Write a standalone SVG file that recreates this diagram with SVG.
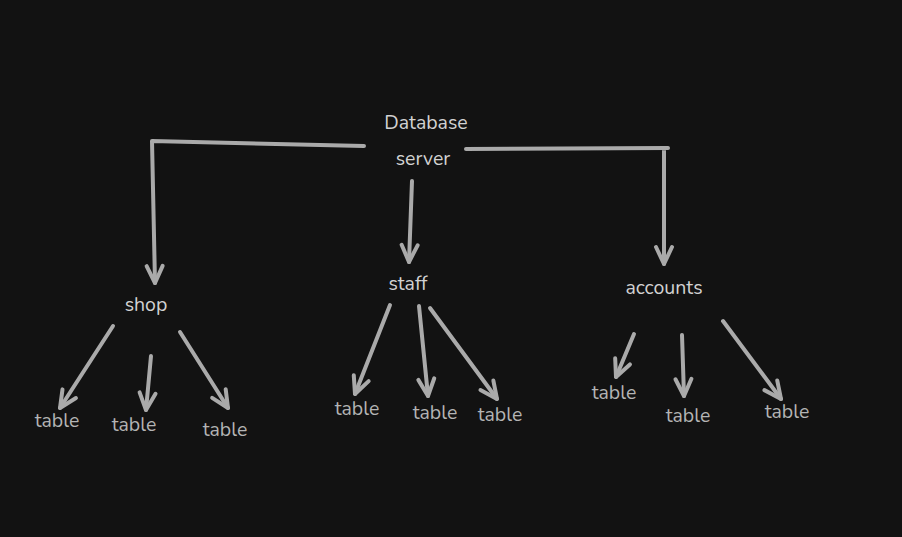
<svg xmlns="http://www.w3.org/2000/svg" width="902" height="537" viewBox="0 0 902 537">
<style>
  .lbl { font-family: "Nunito", "Open Sans", "Liberation Sans", sans-serif; font-size: 19.5px; fill: #d2d2d2; text-anchor: middle; }
  .tbl { font-family: "Nunito", "Open Sans", "Liberation Sans", sans-serif; font-size: 19.5px; fill: #b4b4b4; text-anchor: middle; }
  .edge { fill: none; stroke: #aaaaaa; stroke-width: 4; stroke-linecap: round; stroke-linejoin: round; }
</style>
<defs>
  <marker id="ah" viewBox="-20 -12 24 24" refX="0" refY="0" markerWidth="24" markerHeight="24" markerUnits="userSpaceOnUse" orient="auto" overflow="visible">
    <path d="M-17,-8 L0,0 L-17,8" fill="none" stroke="#aaaaaa" stroke-width="4" stroke-linecap="round" stroke-linejoin="round"/>
  </marker>
</defs>
<rect width="902" height="537" fill="#121212"/>
<g id="connectors">
  <path class="edge" d="M364,146 L152,141 L155,283" marker-end="url(#ah)"/>
  <path class="edge" d="M412,181 L409,262" marker-end="url(#ah)"/>
  <path class="edge" d="M466,149 L668,148 M664,149 L664,264" marker-end="url(#ah)"/>
  <path class="edge" d="M113,326 L60,408" marker-end="url(#ah)"/>
  <path class="edge" d="M151,356 L146,410" marker-end="url(#ah)"/>
  <path class="edge" d="M180,332 L228,408" marker-end="url(#ah)"/>
  <path class="edge" d="M390,305 L355,394" marker-end="url(#ah)"/>
  <path class="edge" d="M419,306 L428,396" marker-end="url(#ah)"/>
  <path class="edge" d="M430,308 L497,399" marker-end="url(#ah)"/>
  <path class="edge" d="M634,334 L616,377" marker-end="url(#ah)"/>
  <path class="edge" d="M682,335 L684,396" marker-end="url(#ah)"/>
  <path class="edge" d="M723,321 L781,399" marker-end="url(#ah)"/>
</g>
<g id="database-server"><text class="lbl" x="426" y="129">Database</text><text class="lbl" x="423" y="165">server</text></g>
<g id="shop"><text class="lbl" x="146" y="311">shop</text></g>
<g id="staff"><text class="lbl" x="408" y="290">staff</text></g>
<g id="accounts"><text class="lbl" x="664" y="294">accounts</text></g>
<g id="shop-table-1"><text class="tbl" x="57" y="427">table</text></g>
<g id="shop-table-2"><text class="tbl" x="134" y="431">table</text></g>
<g id="shop-table-3"><text class="tbl" x="225" y="436">table</text></g>
<g id="staff-table-1"><text class="tbl" x="357" y="415">table</text></g>
<g id="staff-table-2"><text class="tbl" x="435" y="419">table</text></g>
<g id="staff-table-3"><text class="tbl" x="500" y="421">table</text></g>
<g id="accounts-table-1"><text class="tbl" x="614" y="399">table</text></g>
<g id="accounts-table-2"><text class="tbl" x="688" y="422">table</text></g>
<g id="accounts-table-3"><text class="tbl" x="787" y="418">table</text></g>
</svg>
